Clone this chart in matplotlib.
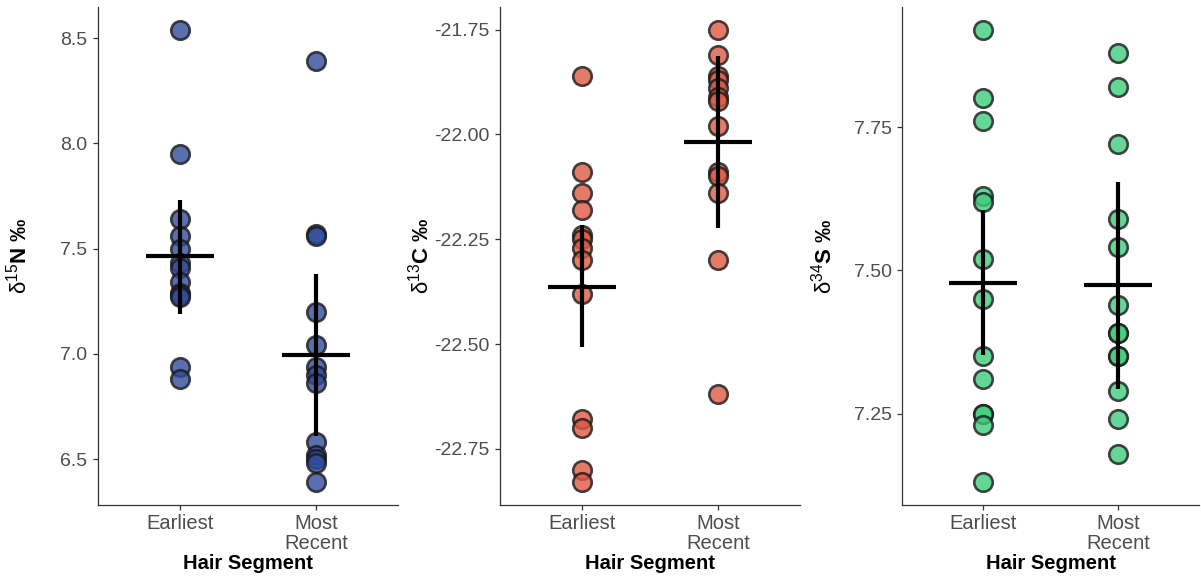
import matplotlib
matplotlib.use("Agg")
import matplotlib.pyplot as plt

plt.rcParams['font.family'] = ['Liberation Sans', 'DejaVu Sans']
plt.rcParams['mathtext.fontset'] = 'custom'
plt.rcParams['mathtext.rm'] = 'Liberation Sans'
plt.rcParams['mathtext.it'] = 'Liberation Sans:italic'
plt.rcParams['mathtext.bf'] = 'Liberation Sans:bold'

segments = ["Earliest", "Most\nRecent"]

# d15N
n_earliest = [8.54, 7.95, 7.64, 7.56, 7.50, 7.43, 7.41, 7.34, 7.29, 7.28, 7.27, 6.94, 6.88]
n_recent = [8.39, 7.57, 7.56, 7.20, 7.04, 6.94, 6.90, 6.86, 6.58, 6.52, 6.50, 6.48, 6.39]
n_mean = [7.464, 6.997]
n_lo = [7.19, 6.61]
n_hi = [7.73, 7.38]

# d13C
c_earliest = [-21.86, -22.09, -22.14, -22.18, -22.24, -22.25, -22.27, -22.30, -22.38,
              -22.68, -22.70, -22.80, -22.83]
c_recent = [-21.75, -21.81, -21.86, -21.87, -21.89, -21.91, -21.92, -21.98, -22.09,
            -22.10, -22.14, -22.30, -22.62]
c_mean = [-22.363, -22.019]
c_lo = [-22.508, -22.223]
c_hi = [-22.217, -21.812]

# d34S
s_earliest = [7.92, 7.80, 7.76, 7.63, 7.62, 7.52, 7.45, 7.35, 7.31, 7.25, 7.25, 7.23, 7.13]
s_recent = [7.88, 7.82, 7.72, 7.59, 7.54, 7.44, 7.39, 7.39, 7.35, 7.35, 7.29, 7.24, 7.18]
s_mean = [7.478, 7.475]
s_lo = [7.353, 7.293]
s_hi = [7.605, 7.655]

panels = [
    (n_earliest, n_recent, n_mean, n_lo, n_hi, "#2f4b9a", r"$\mathrm{\delta}^{\mathrm{15}}$N ‰", [6.5, 7.0, 7.5, 8.0, 8.5], "%.1f"),
    (c_earliest, c_recent, c_mean, c_lo, c_hi, "#dd5a42", r"$\mathrm{\delta}^{\mathrm{13}}$C ‰", [-22.75, -22.5, -22.25, -22.0, -21.75], "%.2f"),
    (s_earliest, s_recent, s_mean, s_lo, s_hi, "#3fcc7c", r"$\mathrm{\delta}^{\mathrm{34}}$S ‰", [7.25, 7.5, 7.75], "%.2f"),
]

fig = plt.figure(figsize=(12.01, 5.76), dpi=100)
lefts = [98, 500, 902]
widths = [300, 300, 297]

for i, (early, recent, mean, lo, hi, col, ylab, yt, fmt) in enumerate(panels):
    ax = fig.add_axes([lefts[i] / 1201, 71 / 576, widths[i] / 1201, 498 / 576])
    ax.scatter([1] * len(early), early, s=178, c=col, alpha=0.8,
               edgecolors="#1a1a1a", linewidths=1.9, zorder=2)
    ax.scatter([2] * len(recent), recent, s=178, c=col, alpha=0.8,
               edgecolors="#1a1a1a", linewidths=1.9, zorder=2)
    ax.vlines([1, 2], lo, hi, colors="black", linewidth=3.0, zorder=3)
    ax.hlines(mean, [0.75, 1.75], [1.25, 2.25], colors="black", linewidth=3.0, zorder=3)

    allv = early + recent
    rng = max(allv) - min(allv)
    ax.set_ylim(min(allv) - 0.05 * rng, max(allv) + 0.05 * rng)
    ax.set_xlim(0.4, 2.6)
    ax.set_xticks([1, 2])
    ax.set_xticklabels(segments, linespacing=1.05)
    ax.set_yticks(yt)
    ax.set_yticklabels([fmt % v for v in yt])

    for sp in ["top", "right"]:
        ax.spines[sp].set_visible(False)
    for sp in ["left", "bottom"]:
        ax.spines[sp].set_color("#333333")
        ax.spines[sp].set_linewidth(0.9)
    ax.tick_params(axis="both", colors="#333333", length=3.5, width=0.9,
                   labelcolor="#4d4d4d")
    ax.tick_params(axis="y", pad=4, labelsize=14)
    ax.tick_params(axis="x", pad=3, labelsize=14.5)

    ax.set_ylabel(ylab, fontsize=16, fontweight="bold")
    ax.yaxis.set_label_coords(-0.222, 0.5)
    ax.set_xlabel("Hair Segment", fontsize=14.5, fontweight="bold")
    ax.xaxis.set_label_coords(0.5, -0.118)
    ax.xaxis.label.set_verticalalignment("center")

fig.savefig("out.png", dpi=100)
